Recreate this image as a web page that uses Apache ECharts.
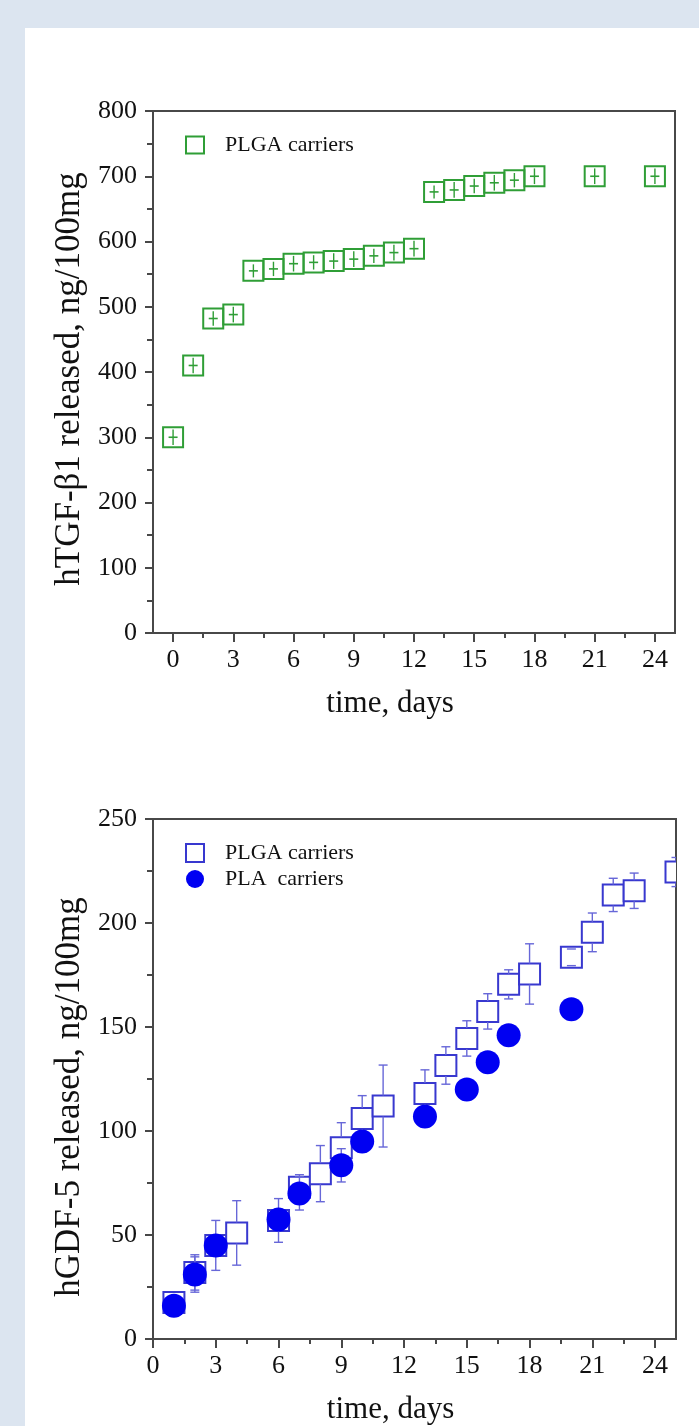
<!DOCTYPE html>
<html>
<head>
<meta charset="utf-8">
<script src="https://cdn.jsdelivr.net/npm/echarts@6/dist/echarts.min.js"></script>
<style>
  html, body { margin: 0; padding: 0; background: #dce5f0; }
  #panel { position: absolute; left: 25px; top: 28px; right: 0; bottom: 0; background: #ffffff; }
  #chart { position: absolute; left: 0; top: 0; width: 699px; height: 1426px; }
</style>
</head>
<body>
<div id="panel"></div>
<div id="chart"></div>
<script>
// ---- hTGF-β1 release from PLGA carriers ----
const tgfDays  = [0, 1, 2, 3, 4, 5, 6, 7, 8, 9, 10, 11, 12, 13, 14, 15, 16, 17, 18, 21, 24];
const tgfPLGA  = [300, 410, 482, 488, 555, 558, 566, 568, 570, 573, 578, 583, 589, 676, 679, 685, 690, 694, 700, 700, 700];
const tgfErr   = [12, 12, 11, 12, 10, 11, 12, 11, 12, 12, 11, 12, 12, 10, 12, 11, 12, 11, 12, 12, 12];

// ---- hGDF-5 release, PLGA vs PLA carriers ----
const gdfDaysPLGA = [1, 2, 3, 4, 6, 7, 8, 9, 10, 11, 13, 14, 15, 16, 17, 18, 20, 21, 22, 23, 25];
const gdfPLGA     = [17.5, 32, 45, 51, 57, 73, 79.5, 92, 106, 112, 118, 131.5, 144.5, 157.5, 170.5, 175.5, 183.5, 195.5, 213.5, 215.5, 224.5];
const gdfPLGAErr  = [2, 8.5, 12, 15.5, 10.5, 6, 13.5, 12, 11, 19.7, 11.4, 9, 8.5, 8.5, 7, 14.5, 4, 9.3, 8, 8.5, 7];
const gdfDaysPLA  = [1, 2, 3, 6, 7, 9, 10, 13, 15, 16, 17, 20];
const gdfPLA      = [16, 31, 45, 57.5, 70, 83.5, 95, 107, 120, 133, 146, 158.5];
const gdfPLAErr   = [3, 8.5, 5, 5, 8, 8, 5, 4, 4, 4, 4, 4];

// ---- axis ticks ----
const dayTicks      = [0, 3, 6, 9, 12, 15, 18, 21, 24];
const dayMinorTicks = [1.5, 4.5, 7.5, 10.5, 13.5, 16.5, 19.5, 22.5];

const GREEN = '#2f9e36';
const BLUE_EDGE = '#3838cf';
const BLUE_BAR = '#6767d8';
const BLUE_FILL = '#0000f2';
const AXIS = '#484848';
const FONT = 'Liberation Serif';

const zip = (xs, ys, es) => xs.map((x, i) => [x, ys[i], es[i]]);

function mainDayAxis(gridIndex, min) {
  return {
    type: 'value', gridIndex, min, max: 25, position: 'bottom',
    name: 'time, days', nameLocation: 'middle', nameGap: 55,
    nameTextStyle: { fontFamily: FONT, fontSize: 31, color: '#111', padding: [0, 48, 0, 0] },
    axisLine: { onZero: false, lineStyle: { color: AXIS, width: 2 } },
    axisTick: { show: true, customValues: dayTicks, length: 9, lineStyle: { color: AXIS, width: 2 } },
    axisLabel: { customValues: dayTicks, margin: 14, fontFamily: FONT, fontSize: 26, color: '#111' },
    splitLine: { show: false }
  };
}
function minorDayAxis(gridIndex, min) {
  return {
    type: 'value', gridIndex, min, max: 25, position: 'bottom',
    axisLine: { show: false },
    axisTick: { show: true, customValues: dayMinorTicks, length: 5, lineStyle: { color: AXIS, width: 2 } },
    axisLabel: { show: false },
    splitLine: { show: false }
  };
}
function valueAxis(gridIndex, max, interval, name, shiftDown) {
  return {
    type: 'value', gridIndex, min: 0, max, interval,
    name, nameLocation: 'middle', nameGap: 65,
    nameTextStyle: { fontFamily: FONT, fontSize: 35, color: '#111', padding: [0, shiftDown * 2, 0, 0] },
    axisLine: { show: true, onZero: false, lineStyle: { color: AXIS, width: 2 } },
    axisTick: { show: true, length: 8, lineStyle: { color: AXIS, width: 2 } },
    minorTick: { show: true, splitNumber: 2, length: 6, lineStyle: { color: AXIS, width: 2 } },
    axisLabel: { margin: 16, fontFamily: FONT, fontSize: 26, color: '#111' },
    splitLine: { show: false }
  };
}

// open square with a small cross for the hTGF-β1 points
function renderTgf(params, api) {
  const x = api.value(0), y = api.value(1), e = api.value(2);
  const c = api.coord([x, y]);
  const t = api.coord([x, y + e]), b = api.coord([x, y - e]);
  const s = 20;
  return {
    type: 'group',
    children: [
      { type: 'rect', shape: { x: c[0] - s / 2, y: c[1] - s / 2, width: s, height: s },
        style: { fill: 'none', stroke: GREEN, lineWidth: 2 } },
      { type: 'line', shape: { x1: c[0], y1: t[1], x2: c[0], y2: b[1] },
        style: { stroke: GREEN, lineWidth: 1.4 } },
      { type: 'line', shape: { x1: c[0] - 4.5, y1: c[1], x2: c[0] + 4.5, y2: c[1] },
        style: { stroke: GREEN, lineWidth: 1.6 } }
    ]
  };
}

// error bar pieces: stem outside the marker plus caps at both ends
function errorPieces(cx, cy, yTop, yBot, half, color) {
  const out = [];
  if (yTop < cy - half) out.push({ type: 'line', shape: { x1: cx, y1: yTop, x2: cx, y2: cy - half }, style: { stroke: color, lineWidth: 1.4 } });
  if (yBot > cy + half) out.push({ type: 'line', shape: { x1: cx, y1: cy + half, x2: cx, y2: yBot }, style: { stroke: color, lineWidth: 1.4 } });
  out.push({ type: 'line', shape: { x1: cx - 4.5, y1: yTop, x2: cx + 4.5, y2: yTop }, style: { stroke: color, lineWidth: 1.4 } });
  out.push({ type: 'line', shape: { x1: cx - 4.5, y1: yBot, x2: cx + 4.5, y2: yBot }, style: { stroke: color, lineWidth: 1.4 } });
  return out;
}

function renderGdfPLGA(params, api) {
  const x = api.value(0), y = api.value(1), e = api.value(2);
  const c = api.coord([x, y]);
  const t = api.coord([x, y + e]), b = api.coord([x, y - e]);
  const s = 21;
  return {
    type: 'group',
    children: [
      { type: 'rect', shape: { x: c[0] - s / 2, y: c[1] - s / 2, width: s, height: s },
        style: { fill: '#ffffff', stroke: BLUE_EDGE, lineWidth: 2 } }
    ].concat(errorPieces(c[0], c[1], t[1], b[1], s / 2, BLUE_BAR))
  };
}

function renderGdfPLA(params, api) {
  const x = api.value(0), y = api.value(1), e = api.value(2);
  const c = api.coord([x, y]);
  const t = api.coord([x, y + e]), b = api.coord([x, y - e]);
  return {
    type: 'group',
    children: errorPieces(c[0], c[1], t[1], b[1], 0, BLUE_BAR).concat([
      { type: 'circle', shape: { cx: c[0], cy: c[1], r: 12 }, style: { fill: BLUE_FILL } }
    ])
  };
}

const chart = echarts.init(document.getElementById('chart'), null, { renderer: 'canvas' });

chart.setOption({
  backgroundColor: 'transparent',
  animation: false,
  legend: [
    {
      left: 180, top: 129, orient: 'vertical', selectedMode: false,
      itemWidth: 18, itemHeight: 17, itemGap: 6,
      textStyle: { fontFamily: FONT, fontSize: 22, color: '#111', padding: [0, 0, 0, 16] },
      data: [{ name: 'PLGA carriers', icon: 'rect',
               itemStyle: { color: '#ffffff', borderColor: GREEN, borderWidth: 2 } }]
    },
    {
      left: 180, top: 837, orient: 'vertical', selectedMode: false,
      itemWidth: 18, itemHeight: 18, itemGap: 4,
      textStyle: { fontFamily: FONT, fontSize: 22, color: '#111', padding: [0, 0, 0, 16] },
      data: [
        { name: 'PLGA carriers ', icon: 'rect',
          itemStyle: { color: '#ffffff', borderColor: BLUE_EDGE, borderWidth: 2 } },
        { name: 'PLA  carriers', icon: 'circle',
          itemStyle: { color: BLUE_FILL, borderWidth: 0 } }
      ]
    }
  ],
  grid: [
    { left: 153, top: 111, width: 522, height: 522, show: true, borderColor: AXIS, borderWidth: 2, backgroundColor: 'transparent' },
    { left: 153, top: 819, width: 523, height: 523, show: true, borderColor: AXIS, borderWidth: 2, backgroundColor: 'transparent' }
  ],
  xAxis: [
    mainDayAxis(0, -1),
    minorDayAxis(0, -1),
    mainDayAxis(1, 0),
    minorDayAxis(1, 0)
  ],
  yAxis: [
    valueAxis(0, 800, 100, 'hTGF-β1 released, ng/100mg', 7),
    valueAxis(1, 250, 50, 'hGDF-5 released, ng/100mg', 18)
  ],
  series: [
    {
      name: 'PLGA carriers', type: 'custom', xAxisIndex: 0, yAxisIndex: 0, clip: true,
      itemStyle: { color: '#ffffff', borderColor: GREEN, borderWidth: 2 },
      renderItem: renderTgf,
      encode: { x: 0, y: 1 },
      data: zip(tgfDays, tgfPLGA, tgfErr)
    },
    {
      name: 'PLGA carriers ', type: 'custom', xAxisIndex: 2, yAxisIndex: 1, clip: true,
      itemStyle: { color: '#ffffff', borderColor: BLUE_EDGE, borderWidth: 2 },
      renderItem: renderGdfPLGA,
      encode: { x: 0, y: 1 },
      data: zip(gdfDaysPLGA, gdfPLGA, gdfPLGAErr)
    },
    {
      name: 'PLA  carriers', type: 'custom', xAxisIndex: 2, yAxisIndex: 1, clip: true,
      itemStyle: { color: BLUE_FILL },
      renderItem: renderGdfPLA,
      encode: { x: 0, y: 1 },
      data: zip(gdfDaysPLA, gdfPLA, gdfPLAErr)
    }
  ]
});
</script>
</body>
</html>
